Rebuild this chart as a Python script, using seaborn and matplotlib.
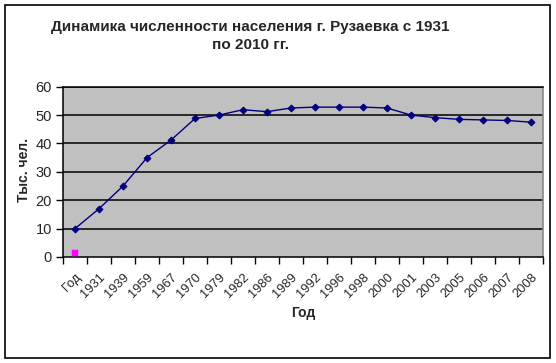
import numpy as np
import pandas as pd
import seaborn as sns
import matplotlib
matplotlib.use('Agg')
import matplotlib.pyplot as plt
from matplotlib.patches import Rectangle
from matplotlib.ticker import FixedLocator

# categories as they appear on the x axis (first one is the header cell)
years = ['Год', '1931', '1939', '1959', '1967', '1970', '1979', '1982', '1986', '1989',
         '1992', '1996', '1998', '2000', '2001', '2003', '2005', '2006', '2007', '2008']
# population, thousand people
population = [10, 17, 25, 35, 41.2, 48.8, 50, 51.9, 51.2, 52.5,
              52.8, 52.8, 52.8, 52.5, 50, 49.1, 48.5, 48.3, 48.1, 47.5]
# second series: only one point drawn
extra_cat = ['Год']
extra_val = [1.4]

title = 'Динамика численности населения г. Рузаевка с 1931\nпо 2010 гг.'

sns.set_style('white')
plt.rcParams['font.family'] = ['Liberation Sans', 'DejaVu Sans']

df = pd.DataFrame({'pos': np.arange(len(years)), 'value': population})
df_extra = pd.DataFrame({'pos': [years.index(c) for c in extra_cat], 'value': extra_val})

fig = plt.figure(figsize=(5.56, 3.63), dpi=100)
ax = fig.add_axes([63 / 556, 1 - 257 / 363, (543 - 63) / 556, (257 - 86.7) / 363])
ax.set_facecolor('#C0C0C0')

for v in range(10, 61, 10):
    ax.axhline(v, color='black', lw=1.1, zorder=1)

sns.lineplot(data=df, x='pos', y='value', ax=ax, color='#000080', lw=1.0,
             marker='D', markersize=3.5, markeredgecolor='#000080', zorder=3)
sns.scatterplot(data=df_extra, x='pos', y='value', ax=ax, color='#FF00FF', marker='s',
                s=18, edgecolor='#FF00FF', zorder=3)

ax.set_xlim(-0.5, len(years) - 0.5)
ax.set_ylim(0, 60)
ax.set_yticks(range(0, 61, 10))
ax.set_xticks(np.arange(len(years)))
ax.set_xticklabels(years, rotation=45, ha='right', rotation_mode='anchor', fontsize=9.3)
ax.xaxis.set_minor_locator(FixedLocator(np.arange(len(years) + 1) - 0.5))
ax.tick_params(axis='x', which='major', length=0, pad=10)
ax.tick_params(axis='x', which='minor', length=5, width=1, color='black', direction='out', bottom=True)
ax.tick_params(axis='y', length=5, width=1, color='black', direction='out', left=True, labelsize=10.5, pad=3)

for s in ['left', 'bottom', 'top']:
    ax.spines[s].set_color('black')
    ax.spines[s].set_linewidth(1.1)
ax.spines['right'].set_color('#808080')
ax.spines['right'].set_linewidth(1.1)

ax.set_xlabel('')
ax.set_ylabel('')
fig.text(24 / 556, 1 - 170 / 363, 'Тыс. чел.', rotation=90, ha='center', va='center',
         fontsize=10, fontweight='bold')
fig.text(303 / 556, 1 - 313 / 363, 'Год', ha='center', va='center', fontsize=10, fontweight='bold')
fig.text(250 / 556, 1 - 36 / 363, title, ha='center', va='center', fontsize=11,
         fontweight='bold', linespacing=1.3)

fig.patches.append(Rectangle((4.5 / 556, 1 - 358 / 363), (550 - 4.5) / 556, (358 - 5) / 363,
                             transform=fig.transFigure, fill=False, edgecolor='black', lw=1.2))

fig.savefig('out.png', dpi=100)
